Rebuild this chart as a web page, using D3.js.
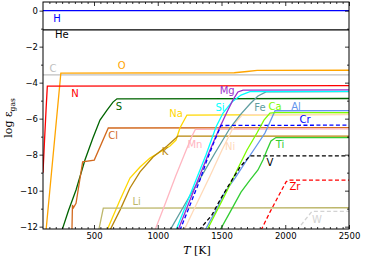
<!DOCTYPE html>
<html>
<head>
<meta charset="utf-8">
<script src="https://cdn.jsdelivr.net/npm/d3@7"></script>
<style>
  body { margin: 0; background: #fff; }
  svg text { font-family: "DejaVu Sans", sans-serif; }
  .axis path { display: none; }
  .axis line { stroke: #000; stroke-width: 0.8; }
  .axis text { font-size: 8.5px; fill: #000; }
</style>
</head>
<body>
<div id="chart"></div>
<script>
// gas phase abundances, [T in K, log eps]
const H  = [[100, 0], [2500, 0]];
const He = [[100, -1.07], [2500, -1.07]];
const C  = [[100, -3.57], [2500, -3.57]];
const O  = [[124, -12.2], [240, -3.47], [1600, -3.45], [1700, -3.38], [1780, -3.32], [2500, -3.31]];
const N  = [[100, -9.0], [112, -7.2], [124, -5.5], [134, -4.19], [2500, -4.17]];
const S  = [[249, -12.2], [300, -11.1], [359, -9.96], [429, -8.3], [490, -7.1], [547, -6.08], [602, -5.52], [649, -5.08], [680, -4.9], [2500, -4.88]];
const Cl = [[327, -12.2], [331, -10.8], [339, -10.95], [359, -10.7], [411, -8.4], [502, -8.3], [612, -6.52], [2500, -6.5]];
const Na = [[602, -12.2], [704, -10.52], [782, -9.3], [861, -8.69], [939, -8.19], [1018, -7.85], [1096, -7.52], [1143, -7.19], [1174, -6.52], [1229, -5.8], [2500, -5.76]];
const K  = [[625, -12.2], [704, -11.08], [782, -9.85], [861, -8.96], [963, -8.13], [1073, -7.52], [1159, -6.97], [2500, -6.97]];
const Li = [[537, -12.2], [573, -10.97], [2500, -10.95]];
const Mn = [[978, -12.2], [1060, -10.7], [1140, -9.2], [1220, -7.8], [1270, -6.95], [1295, -6.6], [2500, -6.57]];
const Mg = [[1159, -12.2], [1253, -10.52], [1331, -9.13], [1410, -7.74], [1488, -6.46], [1543, -5.63], [1590, -4.96], [1629, -4.52], [1669, -4.41], [2500, -4.40]];
const Si = [[1143, -12.2], [1222, -10.8], [1300, -9.41], [1378, -8.02], [1457, -6.46], [1512, -5.69], [1582, -5.08], [1653, -4.69], [1723, -4.5], [2500, -4.49]];
const Fe = [[1096, -12.2], [1214, -10.74], [1331, -9.35], [1449, -7.91], [1567, -6.52], [1645, -5.8], [1723, -5.19], [1786, -4.74], [1849, -4.51], [2500, -4.50]];
const Cr = [[1174, -12.2], [1253, -10.8], [1331, -9.41], [1386, -8.3], [1441, -7.3], [1496, -6.38], [2500, -6.36]];
const Ni = [[1206, -12.2], [1308, -10.69], [1410, -9.19], [1504, -7.74], [1567, -6.85], [1614, -6.19], [1661, -5.8], [1692, -5.78], [2500, -5.78]];
const Al = [[1371, -12.2], [1449, -11.19], [1527, -10.08], [1606, -9.3], [1684, -8.46], [1763, -7.63], [1841, -6.8], [1880, -6.19], [1920, -5.56], [2500, -5.55]];
const V  = [[1323, -12.2], [1425, -11.35], [1488, -10.52], [1567, -9.58], [1645, -8.69], [1723, -8.07], [2500, -8.07]];
const Ca = [[1386, -12.2], [1527, -10.24], [1622, -8.85], [1700, -7.74], [1778, -6.8], [1833, -6.08], [1880, -5.69], [1920, -5.66], [2500, -5.66]];
const Ti = [[1488, -12.2], [1567, -11.19], [1653, -10.08], [1723, -9.41], [1786, -8.85], [1825, -8.3], [1857, -7.74], [1888, -7.24], [1927, -7.05], [2500, -7.05]];
const Zr = [[1810, -12.2], [1880, -11.19], [1943, -10.35], [2006, -9.52], [2022, -9.42], [2500, -9.42]];
const W  = [[2092, -12.2], [2155, -11.63], [2210, -11.15], [2500, -11.15]];

const xTicks = [500, 1000, 1500, 2000, 2500];
const yTicks = [0, -2, -4, -6, -8, -10, -12];

// draw order, colours and label spots (label spots in data units)
const series = [
  {name: 'H',  data: H,  color: '#0000ff', at: [210, -0.41]},
  {name: 'He', data: He, color: '#000000', at: [247, -1.35]},
  {name: 'C',  data: C,  color: '#c0c0c0', at: [178, -3.20]},
  {name: 'O',  data: O,  color: '#ffa500', at: [717, -3.02]},
  {name: 'N',  data: N,  color: '#ff0000', at: [351, -4.63]},
  {name: 'S',  data: S,  color: '#006400', at: [696, -5.34]},
  {name: 'Cl', data: Cl, color: '#d2691e', at: [651, -6.91]},
  {name: 'Na', data: Na, color: '#ffd700', at: [1143, -5.74]},
  {name: 'K',  data: K,  color: '#b8860b', at: [1057, -7.85]},
  {name: 'Li', data: Li, color: '#bdb76b', at: [835, -10.58]},
  {name: 'Mn', data: Mn, color: '#ffb6c1', at: [1292, -7.46]},
  {name: 'Ni', data: Ni, color: '#ffdab9', at: [1567, -7.56]},
  {name: 'Fe', data: Fe, color: '#5f9ea0', at: [1802, -5.37]},
  {name: 'Si', data: Si, color: '#00ffff', at: [1488, -5.37]},
  {name: 'Mg', data: Mg, color: '#9932cc', at: [1545, -4.45]},
  {name: 'Cr', data: Cr, color: '#0000ff', at: [2155, -6.02], dash: true},
  {name: 'Al', data: Al, color: '#6495ed', at: [2084, -5.30]},
  {name: 'Ca', data: Ca, color: '#7cfc00', at: [1920, -5.34]},
  {name: 'V',  data: V,  color: '#000000', at: [1880, -8.45], dash: true},
  {name: 'Ti', data: Ti, color: '#32cd32', at: [1959, -7.46]},
  {name: 'Zr', data: Zr, color: '#ff0000', at: [2076, -9.78], dash: true},
  {name: 'W',  data: W,  color: '#d3d3d3', at: [2249, -11.58], dash: true}
];

const width = 365, height = 259;
const mLeft = 43, mRight = 349, mTop = 2, mBottom = 229;

const svg = d3.select('#chart').append('svg')
  .attr('width', width)
  .attr('height', height);

const x = d3.scaleLinear().domain([100, 2500]).range([mLeft, mRight]);
const y = d3.scaleLinear().domain([-12.13, 0.48]).range([mBottom, mTop]);

svg.append('clipPath').attr('id', 'plot')
  .append('rect')
  .attr('x', mLeft).attr('y', mTop)
  .attr('width', mRight - mLeft).attr('height', mBottom - mTop);

const line = d3.line().x(d => x(d[0])).y(d => y(d[1]));

const g = svg.append('g').attr('clip-path', 'url(#plot)');

g.selectAll('path.curve')
  .data(series)
  .enter()
  .append('path')
  .attr('class', 'curve')
  .attr('d', d => line(d.data))
  .attr('fill', 'none')
  .attr('stroke', d => d.color)
  .attr('stroke-width', 1.3)
  .attr('stroke-dasharray', d => d.dash ? '4,2.5' : null);

svg.selectAll('text.lab')
  .data(series)
  .enter()
  .append('text')
  .attr('class', 'lab')
  .attr('x', d => x(d.at[0]))
  .attr('y', d => y(d.at[1]))
  .attr('text-anchor', 'middle')
  .attr('dominant-baseline', 'central')
  .attr('font-size', '10px')
  .attr('fill', d => d.color)
  .text(d => d.name);

// axes - major and minor ticks on all four sides
const fmt = d3.format('d');
const xMinor = d3.range(150, 2500, 50).filter(v => v % 500 !== 0);
const yMinor = d3.range(-11, 1, 2);

svg.append('g').attr('class', 'axis')
  .attr('transform', 'translate(0,' + mBottom + ')')
  .call(d3.axisBottom(x).tickValues(xTicks).tickSize(-4).tickPadding(4).tickFormat(fmt));
svg.append('g').attr('class', 'axis')
  .attr('transform', 'translate(0,' + mBottom + ')')
  .call(d3.axisBottom(x).tickValues(xMinor).tickSize(-2).tickFormat(''));
svg.append('g').attr('class', 'axis')
  .attr('transform', 'translate(0,' + mTop + ')')
  .call(d3.axisTop(x).tickValues(xTicks).tickSize(-4).tickFormat(''));
svg.append('g').attr('class', 'axis')
  .attr('transform', 'translate(0,' + mTop + ')')
  .call(d3.axisTop(x).tickValues(xMinor).tickSize(-2).tickFormat(''));

svg.append('g').attr('class', 'axis')
  .attr('transform', 'translate(' + mLeft + ',0)')
  .call(d3.axisLeft(y).tickValues(yTicks).tickSize(3.5).tickPadding(1.5).tickFormat(fmt));
svg.append('g').attr('class', 'axis')
  .attr('transform', 'translate(' + mLeft + ',0)')
  .call(d3.axisLeft(y).tickValues(yMinor).tickSize(2).tickFormat(''));
svg.append('g').attr('class', 'axis')
  .attr('transform', 'translate(' + mRight + ',0)')
  .call(d3.axisRight(y).tickValues(yTicks).tickSize(-4).tickFormat(''));
svg.append('g').attr('class', 'axis')
  .attr('transform', 'translate(' + mRight + ',0)')
  .call(d3.axisRight(y).tickValues(yMinor).tickSize(-2).tickFormat(''));

svg.append('rect')
  .attr('x', mLeft).attr('y', mTop)
  .attr('width', mRight - mLeft).attr('height', mBottom - mTop)
  .attr('fill', 'none')
  .attr('stroke', '#000')
  .attr('stroke-width', 1);

// axis titles
const xt = svg.append('text')
  .attr('x', (mLeft + mRight) / 2 + 1)
  .attr('y', 254)
  .attr('text-anchor', 'middle')
  .style('font-family', '"DejaVu Serif", serif')
  .style('font-size', '11px');
xt.append('tspan').style('font-style', 'italic').text('T');
xt.append('tspan').text(' [K]');

const yt = svg.append('text')
  .attr('transform', 'translate(12,118) rotate(-90)')
  .attr('text-anchor', 'middle')
  .style('font-family', '"DejaVu Serif", serif')
  .style('font-size', '11px');
yt.append('tspan').text('log ε');
yt.append('tspan').attr('dy', 3).style('font-size', '7.5px').text('gas');
</script>
</body>
</html>
